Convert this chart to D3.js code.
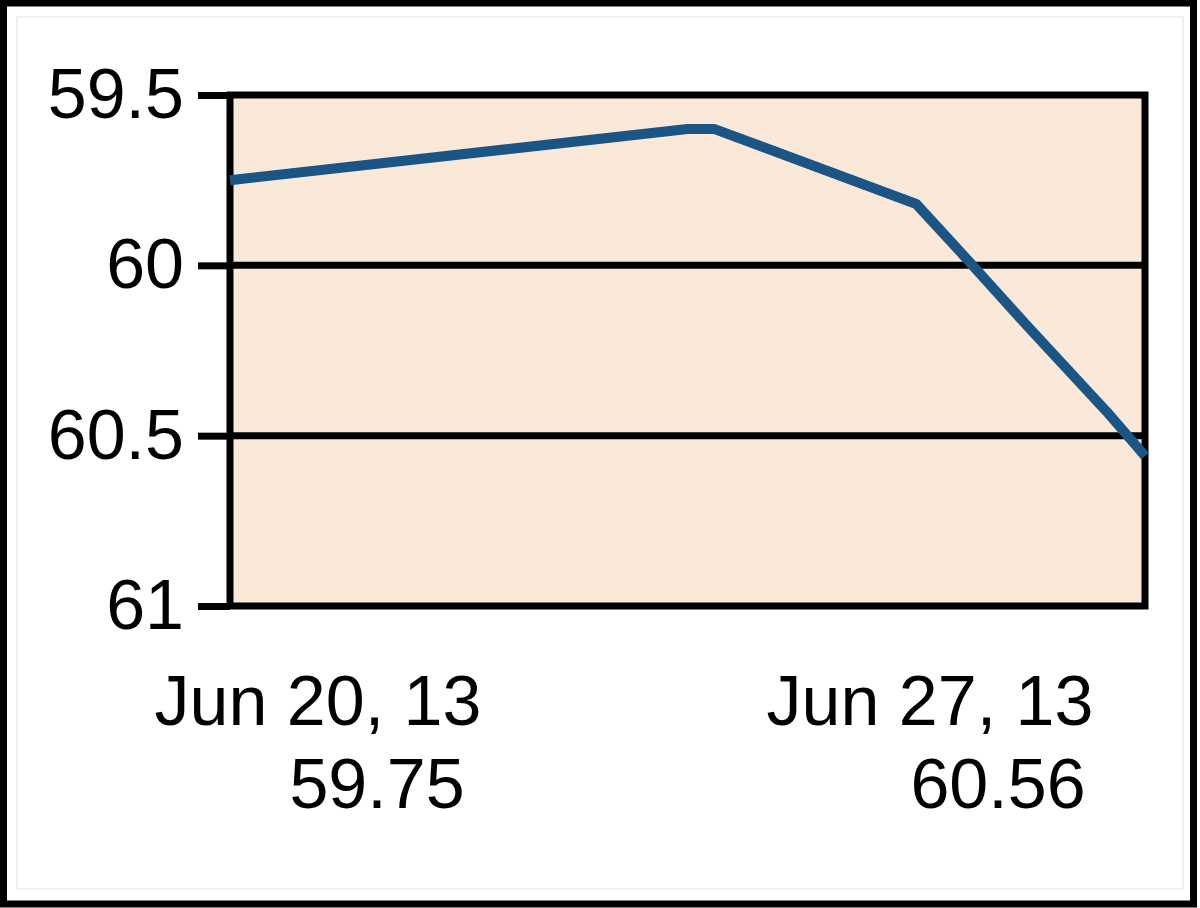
<!DOCTYPE html>
<html>
<head>
<meta charset="utf-8">
<script src="https://cdn.jsdelivr.net/npm/d3@7"></script>
<style>
  html, body { margin: 0; padding: 0; background: #ffffff; }
  svg { display: block; }
  text { font-family: "Liberation Sans", Arial, sans-serif; fill: #000; }
</style>
</head>
<body>
<svg id="chart" width="1200" height="908"></svg>
<script>
// ---- data ----
const dates  = ["2013-06-20T00:00", "2013-06-23T12:00", "2013-06-23T17:00", "2013-06-25T06:00",
                "2013-06-25T13:30", "2013-06-26T02:30", "2013-06-26T17:00", "2013-06-27T00:00"];
const values = [59.75, 59.60, 59.60, 59.82, 59.95, 60.18, 60.43, 60.56];
const yTicks = [59.5, 60, 60.5, 61];
const xLabels = ["Jun 20, 13", "Jun 27, 13"];
const endValues = ["59.75", "60.56"];

const parse = d3.timeParse("%Y-%m-%dT%H:%M");
const data = dates.map((d, i) => ({ t: parse(d), v: values[i] }));

const svg = d3.select("#chart");
const plot = { left: 230, right: 1145, top: 95, bottom: 606 };
const FS = 70;

// outer frame
svg.append("rect").attr("x", 3.5).attr("y", 3).attr("width", 1190).attr("height", 901)
  .attr("fill", "#fff").attr("stroke", "#000").attr("stroke-width", 7);
svg.append("rect").attr("x", 17).attr("y", 17).attr("width", 1166).attr("height", 872)
  .attr("fill", "none").attr("stroke", "#f0f0f0").attr("stroke-width", 2);

const x = d3.scaleTime()
  .domain([parse("2013-06-20T00:00"), parse("2013-06-27T00:00")])
  .range([plot.left, plot.right]);
const y = d3.scaleLinear().domain([59.5, 61]).range([plot.top, plot.bottom]);

// plot background
svg.append("rect")
  .attr("x", plot.left).attr("y", plot.top)
  .attr("width", plot.right - plot.left).attr("height", plot.bottom - plot.top)
  .attr("fill", "#fae9d9");

// gridlines
svg.append("g").selectAll("line").data(yTicks.slice(1, -1)).join("line")
  .attr("x1", plot.left).attr("x2", plot.right)
  .attr("y1", d => y(d)).attr("y2", d => y(d))
  .attr("stroke", "#000").attr("stroke-width", 7);

// y axis
const yAxis = d3.axisLeft(y).tickValues(yTicks).tickSize(32).tickPadding(14)
  .tickFormat(d3.format("~g"));
const gy = svg.append("g").attr("transform", `translate(${plot.left},0)`).call(yAxis);
gy.select(".domain").remove();
gy.selectAll(".tick line").attr("stroke", "#000").attr("stroke-width", 7);
gy.selectAll(".tick text").attr("font-size", FS).attr("x", -46)
  .style("font-family", "'Liberation Sans', Arial, sans-serif").attr("fill", "#000");

// plot border
svg.append("rect")
  .attr("x", plot.left).attr("y", plot.top)
  .attr("width", plot.right - plot.left).attr("height", plot.bottom - plot.top)
  .attr("fill", "none").attr("stroke", "#000").attr("stroke-width", 7);

// line
const line = d3.line().x(d => x(d.t)).y(d => y(d.v));
svg.append("path").datum(data)
  .attr("d", line)
  .attr("fill", "none").attr("stroke", "#1a5585").attr("stroke-width", 10)
  .attr("stroke-linejoin", "round");

// x labels
const labelPos = [{ c1: 318, c2: 377 }, { c1: 930, c2: 998 }];
xLabels.forEach((lab, i) => {
  svg.append("text").attr("x", labelPos[i].c1).attr("y", 725)
    .attr("text-anchor", "middle").attr("font-size", FS).text(lab);
  svg.append("text").attr("x", labelPos[i].c2).attr("y", 808)
    .attr("text-anchor", "middle").attr("font-size", FS).text(endValues[i]);
});
</script>
</body>
</html>
